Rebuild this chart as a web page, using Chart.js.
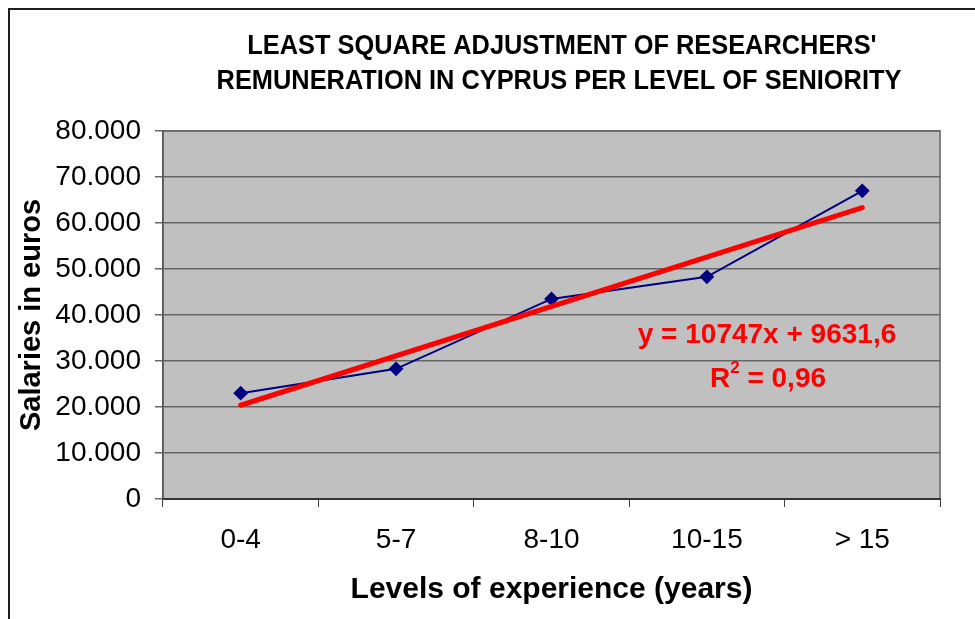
<!DOCTYPE html>
<html>
<head>
<meta charset="utf-8">
<title>Least square adjustment of researchers' remuneration</title>
<script src="https://cdn.jsdelivr.net/npm/chart.js@4.4.1/dist/chart.umd.min.js"></script>
<style>
  html, body { margin: 0; padding: 0; background: #fff; }
  #wrap { position: relative; width: 975px; height: 619px; }
</style>
</head>
<body>
<div id="wrap"><canvas id="chart" width="975" height="619"></canvas></div>
<script>
// data
const categories = ['0-4', '5-7', '8-10', '10-15', '> 15'];
const salaries = [23000, 28300, 43500, 48300, 67000];
// linear trend y = 10747x + 9631,6, only its two ends are needed
const trendLine = [20379, null, null, null, 63367];
const yTicks = [0, 10000, 20000, 30000, 40000, 50000, 60000, 70000, 80000];

const titleLines = [
  "LEAST SQUARE ADJUSTMENT OF RESEARCHERS'",
  'REMUNERATION IN CYPRUS PER LEVEL OF SENIORITY',
];
const equationText = 'y = 10747x + 9631,6';
const rSquaredText = ' = 0,96';

const FONT = '"Liberation Sans", Arial, sans-serif';

function formatThousands(v) {
  return String(v).replace(/\B(?=(\d{3})+(?!\d))/g, '.');
}

// draws text squeezed horizontally, the reference title is a bit condensed
function fillCondensed(ctx, text, cx, cy, squeeze) {
  ctx.save();
  ctx.translate(cx, cy);
  ctx.scale(squeeze, 1);
  ctx.fillText(text, 0, 0);
  ctx.restore();
}

const framePlugin = {
  id: 'frame',
  beforeDraw(chart) {
    const { ctx, chartArea: a } = chart;
    ctx.save();
    ctx.fillStyle = '#ffffff';
    ctx.fillRect(0, 0, chart.width, chart.height);

    // outer frame of the chart object
    ctx.fillStyle = '#1e1e1e';
    ctx.fillRect(8, 8, chart.width - 8, 2);
    ctx.fillRect(8, 8, 2, chart.height - 8);

    // plot area
    ctx.fillStyle = '#c0c0c0';
    ctx.fillRect(a.left, a.top, a.right - a.left, a.bottom - a.top);
    ctx.strokeStyle = '#808080';
    ctx.lineWidth = 2;
    ctx.strokeRect(a.left, a.top, a.right - a.left, a.bottom - a.top);
    ctx.restore();
  },
};

const textPlugin = {
  id: 'texts',
  afterDraw(chart) {
    const { ctx } = chart;
    ctx.save();
    ctx.fillStyle = '#000000';
    ctx.textAlign = 'center';
    ctx.textBaseline = 'middle';
    ctx.font = `bold 27px ${FONT}`;
    fillCondensed(ctx, titleLines[0], 562, 47, 0.94);
    fillCondensed(ctx, titleLines[1], 559, 82, 0.94);

    // trend equation
    ctx.fillStyle = '#ff0000';
    ctx.font = `bold 28px ${FONT}`;
    ctx.fillText(equationText, 767, 335);

    const rW = ctx.measureText('R').width;
    const restW = ctx.measureText(rSquaredText).width;
    ctx.font = `bold 17px ${FONT}`;
    const supW = ctx.measureText('2').width;
    const total = rW + supW + restW;
    let x = 768 - total / 2;
    ctx.textAlign = 'left';
    ctx.font = `bold 28px ${FONT}`;
    ctx.fillText('R', x, 379);
    x += rW;
    ctx.font = `bold 17px ${FONT}`;
    ctx.fillText('2', x, 368);
    x += supW;
    ctx.font = `bold 28px ${FONT}`;
    ctx.fillText(rSquaredText, x, 379);
    ctx.restore();
  },
};

new Chart(document.getElementById('chart'), {
  type: 'line',
  data: {
    labels: categories,
    datasets: [
      {
        label: 'Salaries',
        data: salaries,
        order: 1,
        borderColor: '#000080',
        backgroundColor: '#000080',
        borderWidth: 2,
        pointStyle: 'rectRot',
        pointRadius: 6,
        pointBackgroundColor: '#000080',
        pointBorderColor: '#000080',
        tension: 0,
      },
      {
        label: 'Linear trend',
        data: trendLine,
        order: 0,
        spanGaps: true,
        borderColor: '#ff0000',
        borderWidth: 5,
        borderCapStyle: 'round',
        pointRadius: 0,
        tension: 0,
      },
    ],
  },
  options: {
    responsive: false,
    animation: false,
    devicePixelRatio: 1,
    layout: { padding: { top: 131, right: 35, left: 0, bottom: 0 } },
    plugins: {
      legend: { display: false },
      tooltip: { enabled: false },
      title: { display: false },
    },
    scales: {
      x: {
        type: 'category',
        offset: true,
        grid: {
          offset: true,
          drawOnChartArea: false,
          drawTicks: true,
          tickLength: 8,
          color: '#404040',
          lineWidth: 1,
        },
        border: { color: '#333333', width: 2 },
        ticks: {
          color: '#000000',
          font: { family: FONT, size: 28 },
          padding: 16,
          maxRotation: 0,
        },
        title: {
          display: true,
          text: 'Levels of experience (years)',
          color: '#000000',
          font: { family: FONT, size: 30, weight: 'bold' },
          padding: { top: 0, bottom: 11 },
        },
        afterFit(scale) {
          scale.height = 120;
        },
      },
      y: {
        min: 0,
        max: 80000,
        afterBuildTicks(scale) {
          scale.ticks = yTicks.map((v) => ({ value: v }));
        },
        grid: {
          color: '#666666',
          lineWidth: 1.5,
          tickLength: 8,
        },
        border: { color: '#555555', width: 1.5 },
        ticks: {
          color: '#000000',
          font: { family: FONT, size: 28 },
          padding: 14,
          callback: (v) => formatThousands(v),
        },
        title: {
          display: true,
          text: 'Salaries in euros',
          color: '#000000',
          font: { family: FONT, size: 29, weight: 'bold' },
          padding: { top: 15, bottom: 0 },
        },
        afterFit(scale) {
          scale.width = 163;
        },
      },
    },
  },
  plugins: [framePlugin, textPlugin],
});
</script>
</body>
</html>
